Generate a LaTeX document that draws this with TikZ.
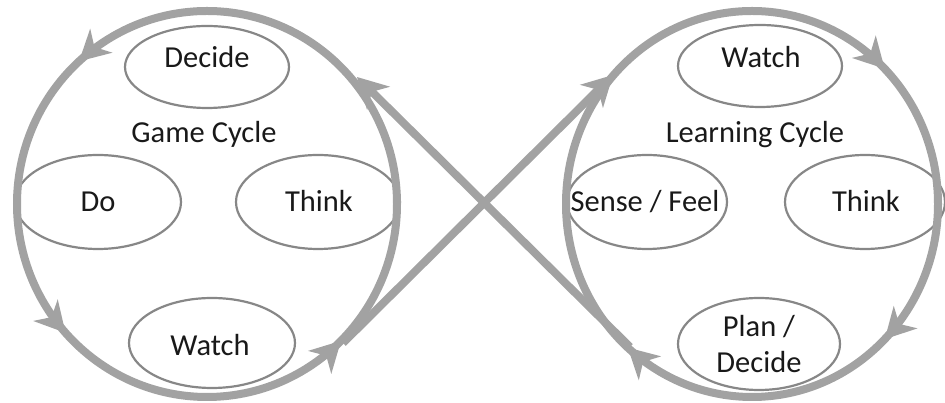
\documentclass[tikz,border=0pt]{standalone}
\usepackage{fontspec}
\setmainfont{Carlito}
\usetikzlibrary{arrows.meta,shapes.geometric,decorations.markings}
\definecolor{bandgray}{RGB}{162,162,162}
\definecolor{ringgray}{RGB}{135,135,135}
\definecolor{txtgray}{RGB}{25,25,25}
\begin{document}
\begin{tikzpicture}[x=1pt,y=1pt,
  band/.style={color=bandgray, line width=8pt},
  bigtip/.tip={Stealth[length=30pt,width=32pt,inset=9pt]},
  bubble/.style={ellipse, draw=ringgray, line width=2.2pt, inner sep=0pt},
  lbl/.style={anchor=base, text=txtgray, font=\fontsize{30.5}{36}\selectfont, inner sep=0pt}]
\useasboundingbox (0,0) rectangle (945,403);

% bubbles of the game cycle
\node[bubble, minimum width=164pt, minimum height=82pt] (gdecide) at (207,336) {};
\node[bubble, minimum width=166pt, minimum height=94pt] (gdo) at (98,201) {};
\node[bubble, minimum width=164pt, minimum height=94pt] (gthink) at (318,201) {};
\node[bubble, minimum width=166pt, minimum height=90pt] (gwatch) at (212,60) {};
% bubbles of the learning cycle
\node[bubble, minimum width=164pt, minimum height=82pt] (lwatch) at (760,337) {};
\node[bubble, minimum width=160pt, minimum height=94pt] (lsense) at (647,201) {};
\node[bubble, minimum width=160pt, minimum height=94pt] (lthink) at (865,201) {};
\node[bubble, minimum width=162pt, minimum height=92pt] (lplan) at (759,59) {};

% game cycle ring (counterclockwise)
\draw[band, postaction={decorate}, decoration={markings,
    mark=at position 0.367 with {\arrow{bigtip}},
    mark=at position 0.617 with {\arrow{bigtip}},
    mark=at position 0.874 with {\arrow{bigtip}}}]
  (397,199) arc[start angle=0, end angle=360, x radius=190, y radius=193];
% learning cycle ring (clockwise)
\draw[band, postaction={decorate}, decoration={markings,
    mark=at position 0.125 with {\arrow{bigtip}},
    mark=at position 0.365 with {\arrow{bigtip}},
    mark=at position 0.875 with {\arrow{bigtip}}}]
  (938,199) arc[start angle=360, end angle=0, x radius=186, y radius=193];

% crossing connectors
\coordinate (a1) at (343,60);
\coordinate (a2) at (613,328);
\coordinate (b1) at (630,56);
\coordinate (b2) at (357,326);
\draw[band, -{bigtip}] (a1) -- (a2);
\draw[band, -{bigtip}] (b1) -- (b2);

% texts
\node[lbl] (tgdecide) at (207,335) {Decide};
\node[lbl] (tgame) at (204,260) {Game Cycle};
\node[lbl] (tgdo) at (98,191) {Do};
\node[lbl] (tgthink) at (319,191) {Think};
\node[lbl] (tgwatch) at (210,47) {Watch};
\node[lbl] (tlwatch) at (761,335) {Watch};
\node[lbl] (tlearn) at (755,260) {Learning Cycle};
\node[lbl] (tlsense) at (645,191) {Sense / Feel};
\node[lbl] (tlthink) at (866,191) {Think};
\node[lbl] (tlplan) at (759,66) {Plan /};
\node[lbl] (tldecide) at (759,30) {Decide};
\end{tikzpicture}
\end{document}
